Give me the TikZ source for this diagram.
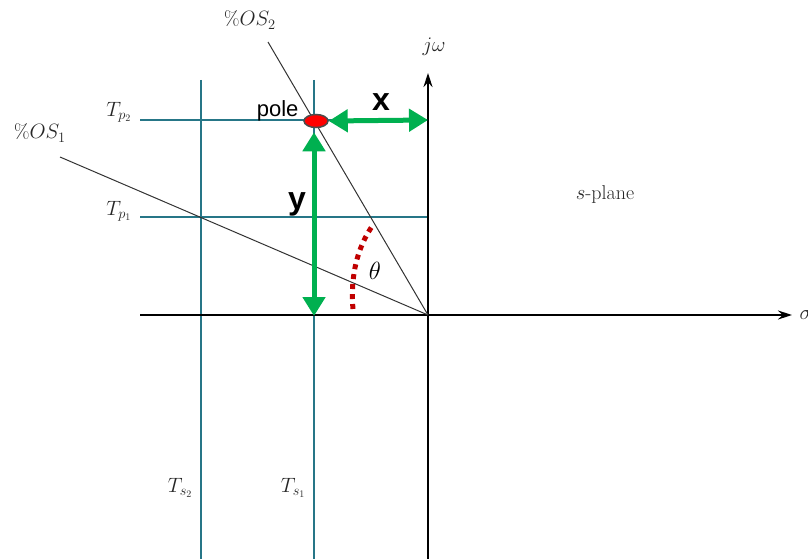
\documentclass[tikz,border=0pt]{standalone}
\usepackage{fontspec}
\newfontfamily\arialfont{Liberation Sans}
\usetikzlibrary{arrows.meta,shapes.geometric}
\definecolor{gridteal}{RGB}{38,118,135}
\definecolor{arrgreen}{RGB}{0,176,80}
\definecolor{dotred}{RGB}{192,0,0}
\tikzset{
  gridline/.style={gridteal, line width=1.4pt},
  axis/.style={line width=1.5pt, -{Stealth[length=14pt,width=9pt]}},
  osline/.style={line width=1pt, black!80},
  dim/.style={arrgreen, line width=5pt, {Triangle[length=19pt,width=22pt]}-{Triangle[length=19pt,width=22pt]}},
  lbl/.style={font=\fontsize{20}{24}\selectfont, text=black!85},
}
\begin{document}
\begin{tikzpicture}[x=1pt, y=-1pt]
  \useasboundingbox (0,0) rectangle (808,559);
  % points
  \coordinate (O) at (428,315);
  \coordinate (os1) at (60,157);
  \coordinate (os2) at (268,42);
  % teal grid
  \draw[gridline] (201,80) -- (201,559);
  \draw[gridline] (314,80) -- (314,559);
  \draw[gridline] (140,120) -- (428,120);
  \draw[gridline] (140,217) -- (428,217);
  \node[lbl, anchor=east] (tp2) at (135,112) {$T_{p_2}$};
  \node[lbl, anchor=east] (tp1) at (135,211) {$T_{p_1}$};
  \node[lbl, anchor=east] (ts2) at (196,488) {$T_{s_2}$};
  \node[lbl, anchor=east] (ts1) at (309,488) {$T_{s_1}$};
  % axes
  \draw[axis] (140,315) -- (792,315);
  \draw[axis] (428,559) -- (428,73);
  \node[lbl, anchor=west] (sigma) at (796,315) {$\sigma$};
  \node[lbl] (jw) at (434,47) {$j\omega$};
  \node[lbl] (splane) at (605,195) {$s$-plane};
  % damping lines
  \draw[osline] (os1) -- (O);
  \draw[osline] (os2) -- (O);
  \node[lbl] (os1lbl) at (40,133) {$\%OS_1$};
  \node[lbl] (os2lbl) at (250,20) {$\%OS_2$};
  % angle
  \draw[dotred, line width=5pt, dash pattern=on 5pt off 5pt]
    (353,309) .. controls (350,275) and (358,246) .. (373,225);
  \node[font=\fontsize{30}{34}\selectfont] (theta) at (375,271) {$\theta$};
  % pole and distances
  \node[draw=black!70, fill=red, line width=1.5pt, ellipse, minimum width=24pt,
    minimum height=13pt, inner sep=0pt] (pole) at (316,121) {};
  \node[font=\arialfont\fontsize{22}{26}\selectfont, anchor=east] (polelbl) at (302,111) {pole};
  \coordinate (xend) at (428,120);
  \coordinate (yend) at (314,316);
  \draw[dim] (pole.east) -- (xend);
  \draw[dim] (pole.south -| yend) ++(0,4) -- (yend);
  \node[font=\arialfont\bfseries\fontsize{32}{36}\selectfont] (xlbl) at (381,102) {x};
  \node[font=\arialfont\bfseries\fontsize{32}{36}\selectfont] (ylbl) at (297,204) {y};
\end{tikzpicture}
\end{document}
